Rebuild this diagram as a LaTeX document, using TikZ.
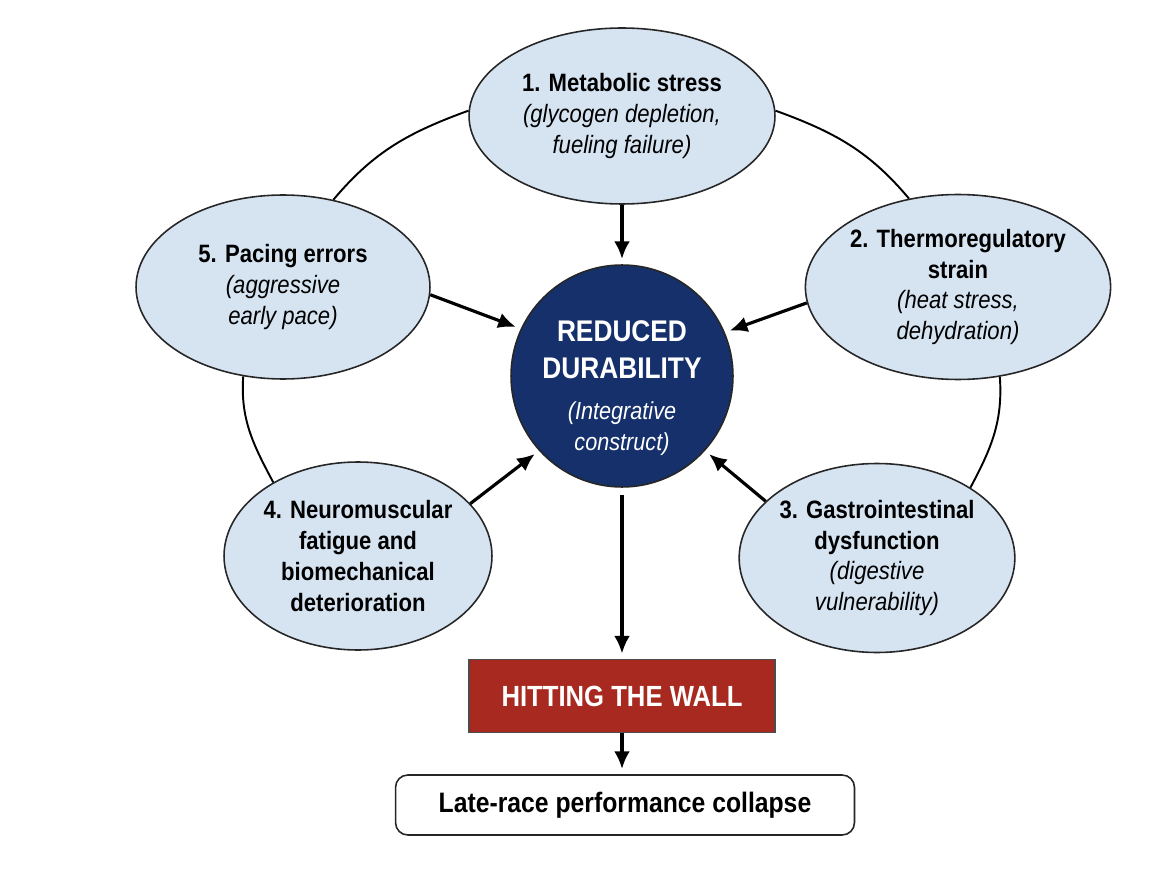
\documentclass[tikz,border=0pt]{standalone}
\usepackage{fontspec}
\setmainfont[FakeStretch=0.88]{Liberation Sans}
\usetikzlibrary{shapes.geometric,arrows.meta}
\definecolor{paleblue}{HTML}{D6E4F2}
\definecolor{navy}{HTML}{15306A}
\definecolor{wallred}{HTML}{A8291F}
\begin{document}
\begin{tikzpicture}[x=0.02cm, y=0.02cm,
  factor/.style={draw=black!85, line width=0.9pt, ellipse, fill=paleblue, inner sep=0pt, align=center, font=\fontsize{14.3}{17.5}\selectfont},
  arr/.style={line width=1.8pt, -{Latex[length=10pt,width=9pt]}, shorten >=3pt},
  ring/.style={draw, line width=1.1pt}]
\useasboundingbox (0,0) rectangle (1166,870);
\node[factor, minimum width=6.12cm, minimum height=3.52cm] (m1) at (622,754) {\textbf{1. Metabolic stress}\\\textit{(glycogen depletion,}\\\textit{fueling failure)}};
\node[factor, minimum width=5.84cm, minimum height=3.7cm] (m2) at (958,583) {\textbf{2. Thermoregulatory}\\\textbf{strain}\\\textit{(heat stress,}\\\textit{dehydration)}};
\node[factor, minimum width=5.36cm, minimum height=3.78cm] (m3) at (877,312) {\textbf{3. Gastrointestinal}\\\textbf{dysfunction}\\\textit{(digestive}\\\textit{vulnerability)}};
\node[factor, minimum width=5.36cm, minimum height=3.76cm] (m4) at (358,314) {\textbf{4. Neuromuscular}\\\textbf{fatigue and}\\\textbf{biomechanical}\\\textbf{deterioration}};
\node[factor, minimum width=5.88cm, minimum height=3.68cm] (m5) at (283,583) {\textbf{5. Pacing errors}\\\textit{(aggressive}\\\textit{early pace)}};
\node[draw=black!85, line width=0.9pt, circle, fill=navy, minimum size=4.44cm, inner sep=0pt,
  label={[text=white, align=center, yshift=-7pt, font=\fontsize{17}{21}\selectfont]center:{\textbf{REDUCED}\\\textbf{DURABILITY}\\[2pt]{\fontsize{14}{17}\selectfont\textit{(Integrative}}\\[-3pt]{\fontsize{14}{17}\selectfont\textit{construct)}}}}] (core) at (622,494) {};
\node[draw=black!70, line width=0.8pt, fill=wallred, text=white, minimum width=6.12cm, minimum height=1.46cm, font=\fontsize{16.6}{20}\selectfont\bfseries] (wall) at (622,174) {HITTING THE WALL};
\node[draw=black!85, line width=0.9pt, rounded corners=7pt, fill=white, minimum width=9.18cm, minimum height=1.2cm, font=\fontsize{16}{19}\selectfont\bfseries] (late) at (625,65) {Late-race performance collapse};
\path[ring] (m1.178) to[out=200, in=50] (m5.60);
\path[ring] (m1.2) to[out=-20, in=130] (m2.119);
\path[ring] (m5.246) to[out=-94, in=118] (m4.139);
\path[ring] (m2.-65) to[out=-86, in=62] (m3.37);
\path[draw,arr] (m1.south) -- (core.north);
\path[draw,arr] (m2.186) -- (core.23);
\path[draw,arr] (m3.153) -- (core.318);
\path[draw,arr] (m4.25) -- (core.222);
\path[draw,arr] (m5.-3) -- (core.155);
\path[draw,arr,shorten <=4pt] (core.south) -- (wall.north);
\path[draw,arr] (wall.south) -- (wall.south |- late.north);
\end{tikzpicture}
\end{document}
